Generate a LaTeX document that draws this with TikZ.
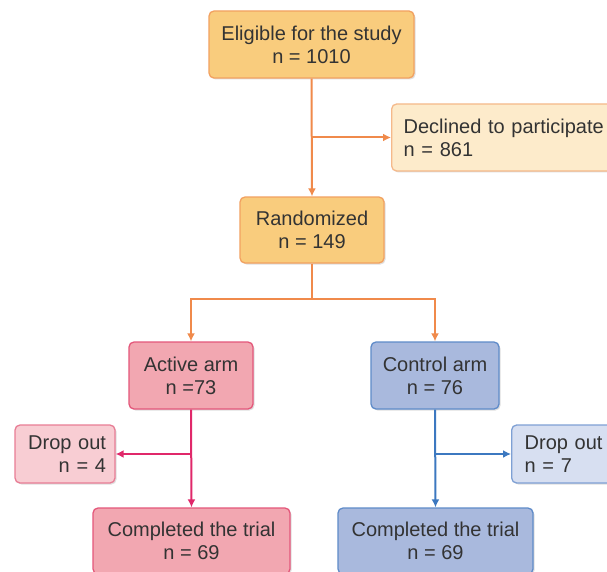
\documentclass[tikz,border=0pt]{standalone}
\usepackage{fontspec}
\setmainfont{Liberation Sans}
\usetikzlibrary{arrows.meta,shadows,calc}
\definecolor{txt}{HTML}{333333}
\definecolor{ofill}{HTML}{F9CC7D}
\definecolor{odraw}{HTML}{F2A160}
\definecolor{cfill}{HTML}{FDEBCB}
\definecolor{cdraw}{HTML}{F5B98A}
\definecolor{oline}{HTML}{F08A4B}
\definecolor{pfill}{HTML}{F2A7B1}
\definecolor{pdraw}{HTML}{E4577A}
\definecolor{lpfill}{HTML}{F8CDD3}
\definecolor{lpdraw}{HTML}{E87D95}
\definecolor{pline}{HTML}{E0286A}
\definecolor{bfill}{HTML}{A9B9DD}
\definecolor{bdraw}{HTML}{5F8BC9}
\definecolor{lbfill}{HTML}{D7DFF1}
\definecolor{lbdraw}{HTML}{7EA0D4}
\definecolor{bline}{HTML}{3C78C0}
\tikzset{
  box/.style={rectangle, rounded corners=5pt, line width=1.3pt, text=txt,
    font=\fontsize{20}{23}\selectfont, align=center, inner sep=0pt,
    drop shadow={shadow xshift=1.5pt, shadow yshift=-1.5pt, opacity=0.25}},
  obox/.style={box, fill=ofill, draw=odraw},
  cbox/.style={box, fill=cfill, draw=cdraw},
  pbox/.style={box, fill=pfill, draw=pdraw},
  lpbox/.style={box, fill=lpfill, draw=lpdraw},
  bbox/.style={box, fill=bfill, draw=bdraw},
  lbbox/.style={box, fill=lbfill, draw=lbdraw},
  conn/.style={line width=2pt},
  tip/.style={-{Latex[length=8pt,width=8pt]}},
}
\begin{document}
\begin{tikzpicture}[x=1pt,y=1pt]
\useasboundingbox (0,0) rectangle (607,-572);
\clip (0,0) rectangle (607,-572);
\fill[white] (0,0) rectangle (607,-572);
% nodes
\node[obox, minimum width=205pt, minimum height=67pt] (E) at (311.5,-44.5) {Eligible for the study\\n = 1010};
\node[cbox, minimum width=229pt, minimum height=67pt, anchor=west, text width=215pt, align=left, inner xsep=12pt] (D) at (391,-137.5) {Declined to participate\\n = 861};
\node[obox, minimum width=144pt, minimum height=66pt] (R) at (312,-230) {Randomized\\n = 149};
\node[pbox, minimum width=124pt, minimum height=67pt] (A) at (191,-375.5) {Active arm\\n =73};
\node[bbox, minimum width=128pt, minimum height=67pt] (C) at (435,-375.5) {Control arm\\n = 76};
\node[lpbox, minimum width=100pt, minimum height=58pt, text width=82pt, align=right, inner xsep=9pt] (DL) at (65,-454) {Drop out\\n = 4};
\node[lbbox, minimum width=110pt, minimum height=58pt, anchor=west, text width=90pt, align=left, inner xsep=13pt] (DR) at (511,-454) {Drop out\\n = 7};
\node[pbox, minimum width=197pt, minimum height=66pt] (CL) at (191.5,-541) {Completed the trial\\n = 69};
\node[bbox, minimum width=195pt, minimum height=66pt] (CR) at (435.5,-541) {Completed the trial\\n = 69};
% coordinates
\coordinate (split) at ($(R.south)+(0,-35)$);
\coordinate (abr) at (A.south |- DL.east);
\coordinate (cbr) at (C.south |- DR.west);
% connectors
\draw[conn, oline, tip] (E.south) -- (R.north);
\draw[conn, oline, tip] (E.south |- D.west) -- (D.west);
\draw[conn, oline] (R.south) -- (split);
\draw[conn, oline, tip] (split) -| (A.north);
\draw[conn, oline, tip] (split) -| (C.north);
\draw[conn, pline, tip] (A.south) -- (CL.north);
\draw[conn, pline, tip] (abr) -- (DL.east);
\draw[conn, bline, tip] (C.south) -- (CR.north);
\draw[conn, bline, tip] (cbr) -- (DR.west);
\end{tikzpicture}
\end{document}
